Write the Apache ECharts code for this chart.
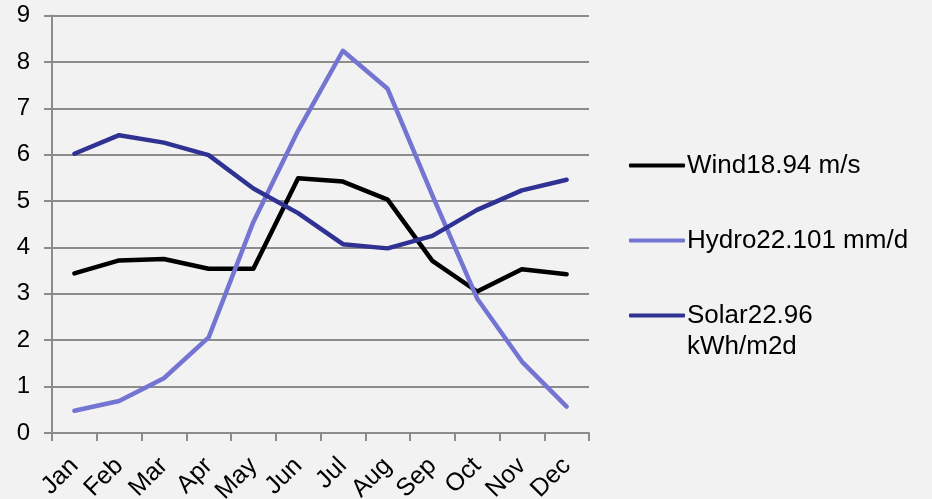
<!DOCTYPE html>
<html>
<head>
<meta charset="utf-8">
<script src="https://cdn.jsdelivr.net/npm/echarts@6/dist/echarts.min.js"></script>
<style>
html,body{margin:0;padding:0;background:#f2f2f2;}
#c{width:932px;height:499px;}
</style>
</head>
<body>
<div id="c"></div>
<script>
var months = ['Jan','Feb','Mar','Apr','May','Jun','Jul','Aug','Sep','Oct','Nov','Dec'];
var windName = 'Wind18.94 m/s';
var hydroName = 'Hydro22.101 mm/d';
var solarName = 'Solar22.96 kWh/m2d';
var wind  = [3.44, 3.72, 3.75, 3.54, 3.54, 5.49, 5.42, 5.03, 3.71, 3.05, 3.53, 3.42];
var hydro = [0.48, 0.69, 1.18, 2.06, 4.55, 6.52, 8.24, 7.42, 5.12, 2.90, 1.54, 0.57];
var solar = [6.02, 6.42, 6.26, 5.99, 5.27, 4.74, 4.07, 3.98, 4.25, 4.81, 5.23, 5.46];
var yTicks = {min: 0, max: 9, interval: 1};

var FONT = 'Liberation Sans';
var colors = {wind:'#000000', hydro:'#7474d2', solar:'#2f3193'};

function mkLegend(name, top){
  return {
    show: true, data: [name], left: 629, top: top, orient: 'vertical', padding: 0,
    icon: 'roundRect', itemWidth: 56, itemHeight: 4,
    textStyle: {fontFamily: FONT, fontSize: 26, color: '#000', lineHeight: 31, padding: [0,0,0,-3]},
    formatter: function(n){ return n === solarName ? '\nSolar22.96\nkWh/m2d' : n; },
    selectedMode: false
  };
}

function mkLine(name, data, color){
  return {
    name: name, type: 'line', data: data, showSymbol: false, symbol: 'none',
    color: color,
    lineStyle: {width: 4.5, color: color, cap: 'round', join: 'round'},
    emphasis: {disabled: true}
  };
}

var chart = echarts.init(document.getElementById('c'), null, {renderer: 'canvas'});
chart.setOption({
  backgroundColor: '#f2f2f2',
  animation: false,
  grid: {left: 52, right: 343, top: 15.5, bottom: 66, containLabel: false, outerBoundsMode: 'none'},
  legend: [mkLegend(windName, 150), mkLegend(hydroName, 225), mkLegend(solarName, 269)],
  xAxis: {
    type: 'category', data: months, boundaryGap: true,
    axisLine: {show: true, lineStyle: {color: '#8c8c8c', width: 2}},
    axisTick: {show: true, length: 8, lineStyle: {color: '#8c8c8c', width: 2}},
    axisLabel: {rotate: 45, margin: 29, fontFamily: FONT, fontSize: 25, color: '#000', interval: 0, hideOverlap: false}
  },
  yAxis: {
    type: 'value', min: yTicks.min, max: yTicks.max, interval: yTicks.interval,
    axisLine: {show: true, lineStyle: {color: '#8c8c8c', width: 2}},
    axisTick: {show: true, length: 8, lineStyle: {color: '#8c8c8c', width: 2}},
    splitLine: {show: true, lineStyle: {color: '#8c8c8c', width: 2}},
    axisLabel: {margin: 22, fontFamily: FONT, fontSize: 24, color: '#000'}
  },
  series: [
    mkLine(windName, wind, colors.wind),
    mkLine(hydroName, hydro, colors.hydro),
    mkLine(solarName, solar, colors.solar)
  ]
});
</script>
</body>
</html>
